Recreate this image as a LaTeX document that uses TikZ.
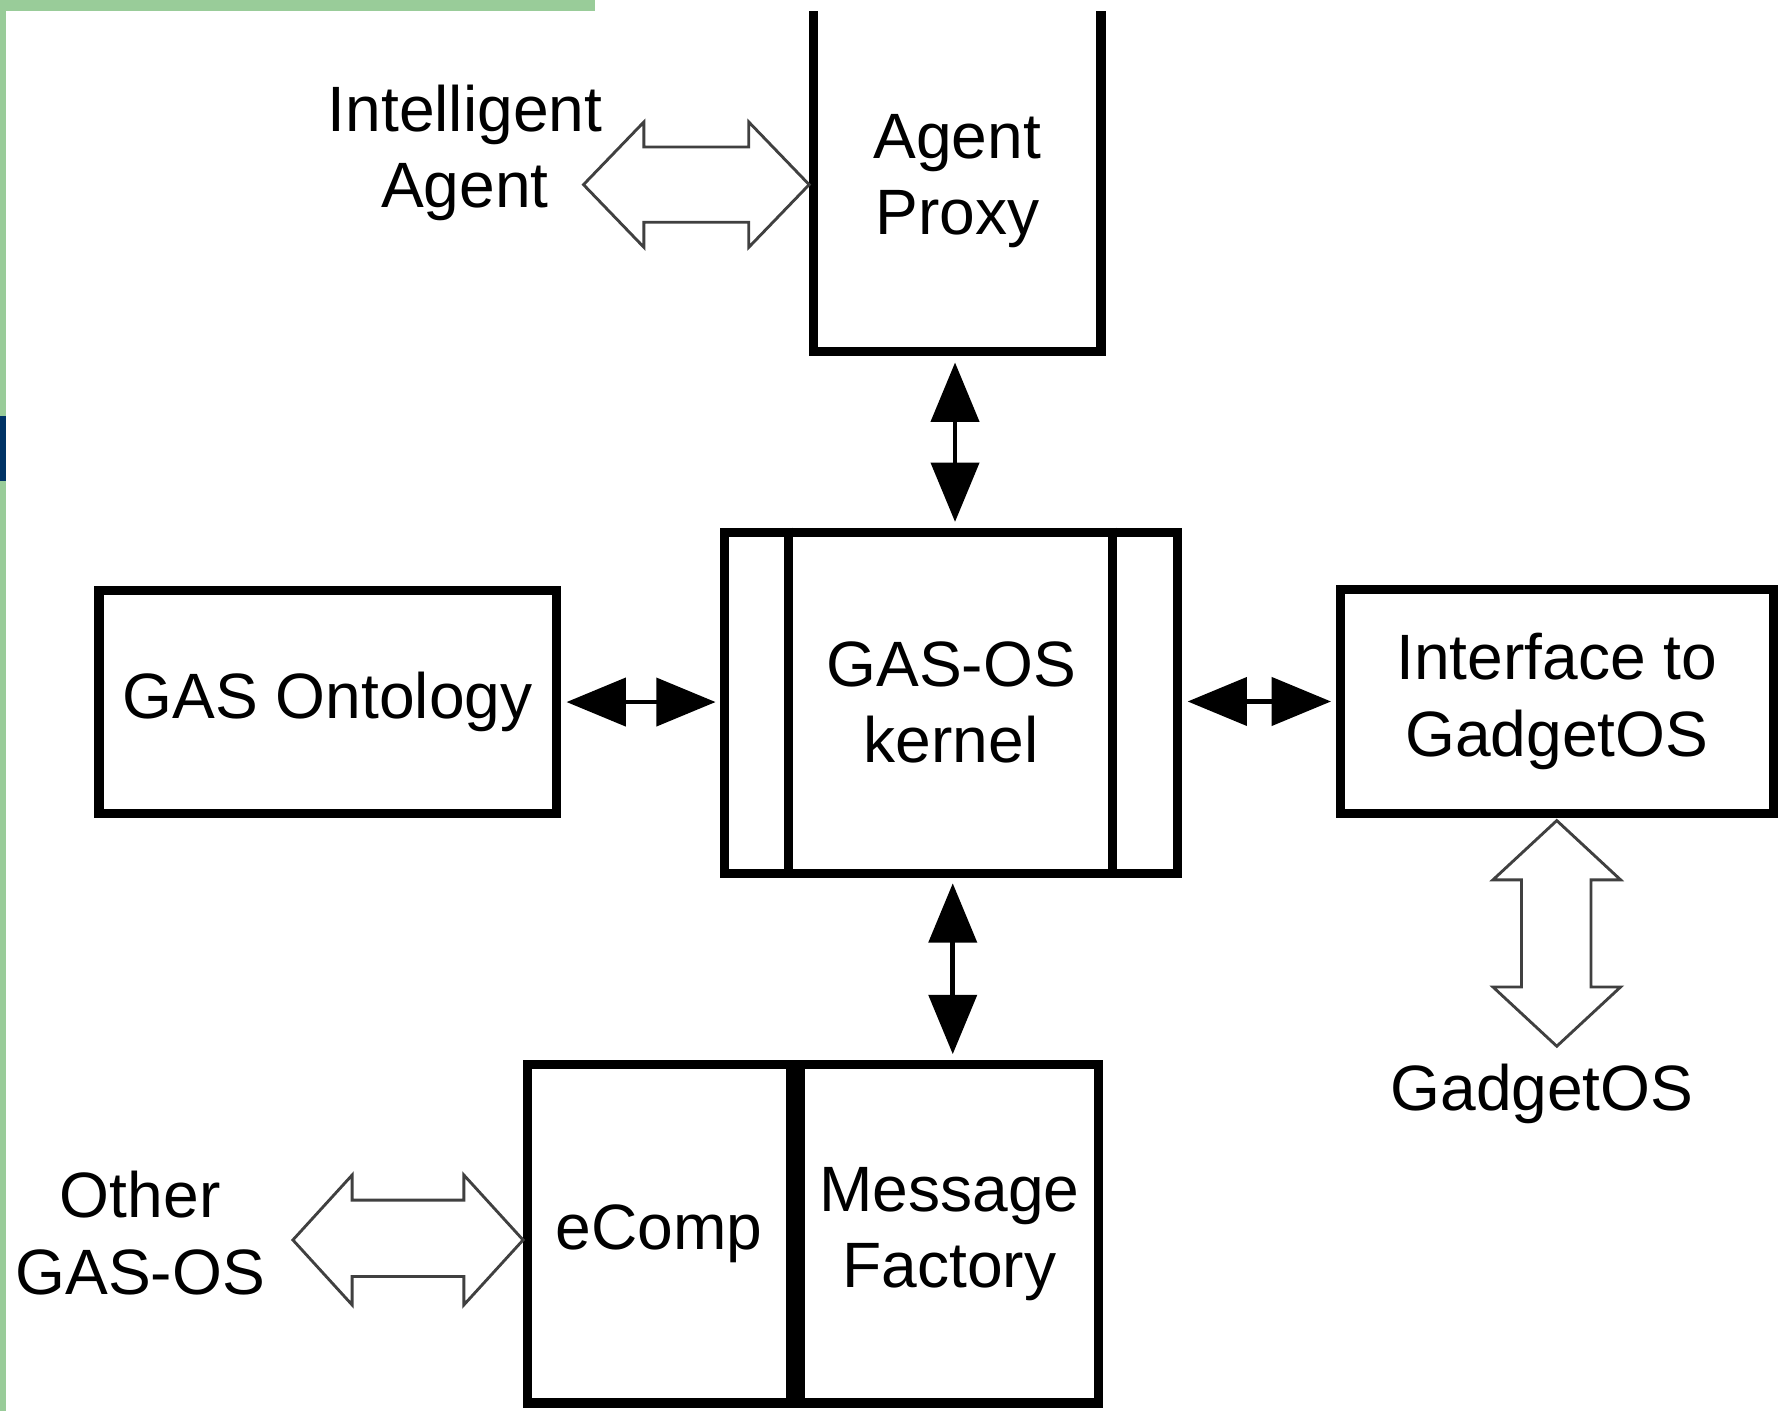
\documentclass[tikz,border=0pt]{standalone}
\usepackage{fontspec}
\setmainfont{Liberation Sans}
\usetikzlibrary{arrows.meta}
\definecolor{bordergreen}{RGB}{153,204,153}
\definecolor{barblue}{RGB}{0,51,102}
\begin{document}
\begin{tikzpicture}[x=0.01cm,y=-0.01cm,
  txt/.style={font=\fontsize{16}{19}\selectfont},
  box/.style={rectangle, draw, line width=0.08cm, outer sep=0.04cm, inner sep=0pt, align=center, txt},
  lbl/.style={align=center, inner sep=0pt, txt},
  link/.style={line width=0.04cm, {Triangle[length=0.52cm,width=0.42cm]}-{Triangle[length=0.52cm,width=0.42cm]}},
  hollow/.style={draw=black!75, line width=0.025cm, fill=white, line join=miter}]
\useasboundingbox (0,0) rectangle (1568,1238);
\fill[white] (0,0) rectangle (1568,1238);
% decorative border
\fill[bordergreen] (0,0) rectangle (522,10);
\fill[bordergreen] (0,0) rectangle (5,1238);
\fill[barblue] (0,365) rectangle (5,422);

% boxes
\node[box, draw=none, outer sep=0pt, minimum width=2.52cm, minimum height=2.98cm] (ap) at (840,159) {Agent\\Proxy};
\draw[line width=0.08cm, line join=miter] (ap.north west) -- (ap.south west) -- (ap.south east) -- (ap.north east);

\node[box, minimum width=4.01cm, minimum height=1.96cm] (ont) at (287.5,616) {GAS Ontology};
\node[box, minimum width=3.97cm, minimum height=2.99cm] (kern) at (834.5,616.5) {GAS-OS\\kernel};
\draw[line width=0.08cm] ([xshift=0.60cm]kern.north west) -- ([xshift=0.60cm]kern.south west);
\draw[line width=0.08cm] ([xshift=-0.61cm]kern.north east) -- ([xshift=-0.61cm]kern.south east);
\node[box, minimum width=3.80cm, minimum height=1.97cm] (ifc) at (1366,615.5) {Interface to\\GadgetOS};
\node[box, minimum width=2.31cm, minimum height=2.97cm] (ecomp) at (578.5,1082.5) {eComp};
\node[box, minimum width=2.62cm, minimum height=2.97cm] (mf) at (833,1082.5) {Message\\Factory};

% outside labels
\node[lbl] (ia) at (408,134) {Intelligent\\Agent};
\node[lbl] (og) at (123,1082) {Other\\GAS-OS};
\node[lbl] (gos) at (1353,960) {GadgetOS};

% thin double arrows
\draw[link, shorten <=0.1cm, shorten >=0.05cm] ([xshift=-0.02cm]ap.south) -- ([xshift=-0.02cm]ap.south |- kern.north);
\draw[link, shorten <=0.05cm, shorten >=0.05cm] ([xshift=0.015cm]kern.south) -- ([xshift=0.015cm]kern.south |- mf.north);
\draw[link, shorten <=0.05cm, shorten >=0.04cm] (ont.east) -- (ont.east -| kern.west);
\draw[link, shorten <=0.05cm, shorten >=0.04cm] (kern.east |- ifc.west) -- (ifc.west);

% hollow double arrows
\draw[hollow] (512,162) -- (565,107) -- (565,129) -- (657,129) -- (657,107) -- (710,162)
  -- (657,217) -- (657,195) -- (565,195) -- (565,217) -- cycle;
\draw[hollow] (257,1088) -- (309,1031) -- (309,1053) -- (407,1053) -- (407,1031) -- (459,1088)
  -- (407,1145) -- (407,1120) -- (309,1120) -- (309,1145) -- cycle;
\draw[hollow] (1366,720) -- (1422,772) -- (1396,772) -- (1396,866) -- (1422,866) -- (1366,918)
  -- (1310,866) -- (1335,866) -- (1335,772) -- (1310,772) -- cycle;
\end{tikzpicture}
\end{document}
